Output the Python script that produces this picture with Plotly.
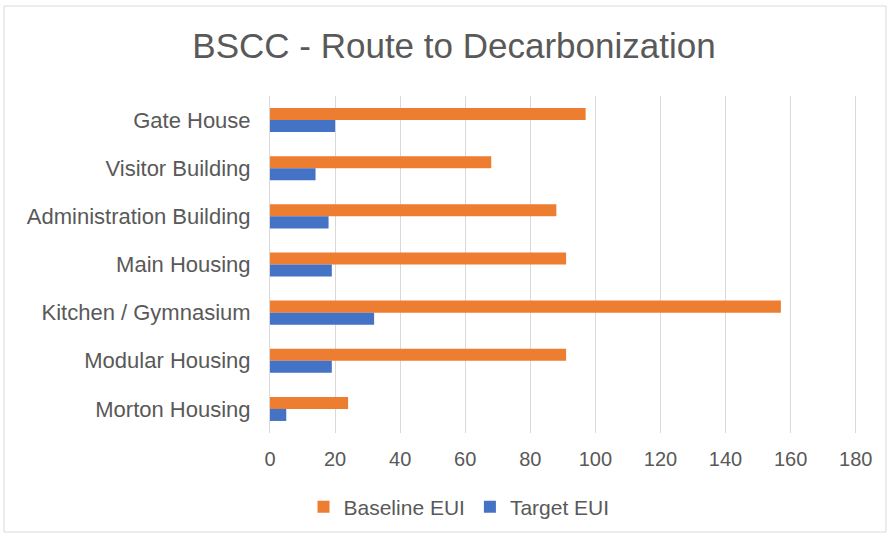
import plotly.graph_objects as go

categories = ["Gate House", "Visitor Building", "Administration Building", "Main Housing",
              "Kitchen / Gymnasium", "Modular Housing", "Morton Housing"]
baseline_eui = [97, 68, 88, 91, 157, 91, 24]
target_eui = [20, 14, 18, 19, 32, 19, 5]
x_ticks = [0, 20, 40, 60, 80, 100, 120, 140, 160, 180]

W, H = 893, 536
L, R, T, B = 270, 36, 96, 103

fig = go.Figure()
fig.add_trace(go.Bar(y=categories, x=baseline_eui, name="Baseline EUI", orientation="h",
                     marker=dict(color="#ED7D31", line=dict(width=0))))
fig.add_trace(go.Bar(y=categories, x=target_eui, name="Target EUI", orientation="h",
                     marker=dict(color="#4472C4", line=dict(width=0))))

pw = W - L - R
ph = H - T - B
def px_to_paper_x(px):
    return (px - L) / pw
def py_to_paper_y(py):
    return 1 - (py - T) / ph

fig.add_shape(type="rect", xref="paper", yref="paper",
              x0=px_to_paper_x(4), x1=px_to_paper_x(886),
              y0=py_to_paper_y(532), y1=py_to_paper_y(6),
              line=dict(color="#d9d9d9", width=1), fillcolor="rgba(0,0,0,0)", layer="below")

fig.update_layout(
    width=W, height=H,
    margin=dict(l=L, r=R, t=T, b=B, autoexpand=False),
    paper_bgcolor="white", plot_bgcolor="white",
    font=dict(family="Liberation Sans, Arial, sans-serif", color="#595959", size=20),
    title=dict(text="BSCC - Route to Decarbonization", x=454 / W, xref="container", xanchor="center",
               y=1 - 46 / H, yref="container", yanchor="middle",
               font=dict(size=35, color="#595959")),
    barmode="group", bargap=0.5, bargroupgap=0,
    showlegend=True,
    legend=dict(orientation="h", x=px_to_paper_x(459), xanchor="center",
                y=py_to_paper_y(507), yanchor="middle", font=dict(size=21, color="#595959"),
                itemwidth=30, tracegroupgap=0),
    xaxis=dict(range=[0, 180.4], tickvals=x_ticks, showgrid=True, gridcolor="#d9d9d9",
               gridwidth=1, zeroline=False, showline=False, ticks="", automargin=False,
               ticklabelstandoff=12, tickfont=dict(size=20, color="#595959")),
    yaxis=dict(autorange="reversed", showgrid=False, zeroline=False, automargin=False,
               showline=True, linecolor="#d9d9d9", linewidth=1, ticks="",
               ticklabelstandoff=14, tickfont=dict(size=22, color="#595959")),
)

fig.write_html("out.html", config={"displayModeBar": False},
               post_script="document.body.style.margin='0';")
